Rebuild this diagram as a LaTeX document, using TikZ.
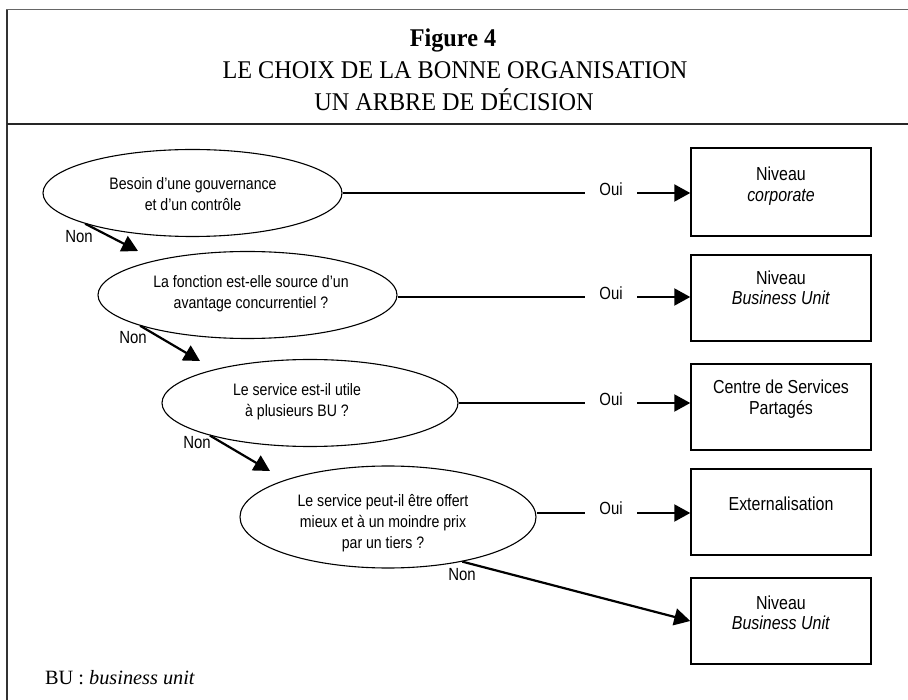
\documentclass[tikz,border=0pt]{standalone}
\usepackage{fontspec}
\setmainfont{Liberation Serif}
\newfontfamily\titlefont[FakeStretch=0.95]{Liberation Serif}
\newfontfamily\narrow[FakeStretch=0.85]{Liberation Sans}
\usetikzlibrary{shapes.geometric,arrows.meta}
\begin{document}
\begin{tikzpicture}[x=1pt,y=-1pt,
  ell/.style={draw, ellipse, line width=1.1pt, inner sep=0pt},
  box/.style={draw, rectangle, line width=1.5pt, minimum width=180pt, minimum height=86pt, inner sep=0pt},
  etxt/.style={font=\narrow\fontsize{16.6}{21}\selectfont, align=center, inner sep=0pt},
  btxt/.style={font=\narrow\fontsize{18.8}{20.5}\selectfont, align=center, inner sep=0pt},
  yes/.style={font=\narrow\fontsize{17.6}{20}\selectfont, inner sep=0pt},
  nolab/.style={font=\narrow\fontsize{17.6}{20}\selectfont, inner sep=0pt},
  conn/.style={line width=2.2pt},
  arr/.style={line width=2.2pt, -{Triangle[length=16pt,width=17pt]}},
  ttl/.style={font=\titlefont\fontsize{25.5}{30}\selectfont, anchor=base},
]
\useasboundingbox (0,0) rectangle (908,700);
% frame
\draw[line width=1.5pt, black!80] (7,700) -- (7,9.5);
\draw[line width=1.5pt, black!60] (6.25,9.5) -- (908,9.5);
\draw[line width=1.5pt, black!85] (7,124) -- (908,124);
% title
\node[ttl, font=\titlefont\bfseries\fontsize{25.5}{30}\selectfont] (t1) at (453,47) {Figure 4};
\node[ttl] (t2) at (455,79) {LE CHOIX DE LA BONNE ORGANISATION};
\node[ttl] (t3) at (454,111) {UN ARBRE DE DÉCISION};
% ellipses
\node[ell, minimum width=299pt, minimum height=87pt] (e1) at (192.5,193) {};
\node[etxt] (q1) at (193,194) {Besoin d’une gouvernance\\et d’un contrôle};
\node[ell, minimum width=299pt, minimum height=87pt] (e2) at (247.5,295) {};
\node[etxt] (q2) at (251,294) {La fonction est-elle source d’un\\avantage concurrentiel ?};
\node[ell, minimum width=296pt, minimum height=87pt] (e3) at (310,403) {};
\node[etxt] (q3) at (297,402) {Le service est-il utile\\à plusieurs BU ?};
\node[ell, minimum width=296pt, minimum height=102pt] (e4) at (388,517) {};
\node[etxt] (q4) at (383,523) {Le service peut-il être offert\\mieux et à un moindre prix\\par un tiers ?};
% boxes
\node[box, minimum height=88pt] (b1) at (781,192) {};
\node[btxt] (r1) at (781,186) {Niveau\\\textit{corporate}};
\node[box] (b2) at (781,298) {};
\node[btxt] (r2) at (781,288) {Niveau\\\textit{Business Unit}};
\node[box] (b3) at (781,407) {};
\node[btxt] (r3) at (781,399) {Centre de Services\\Partagés};
\node[box] (b4) at (781,512) {};
\node[btxt] (r4) at (781,504) {Externalisation};
\node[box] (b5) at (781,621) {};
\node[btxt] (r5) at (781,613) {Niveau\\\textit{Business Unit}};
% Oui connectors
\coordinate (o1a) at (585,193); \coordinate (o1b) at (637,193);
\coordinate (o2a) at (585,297); \coordinate (o2b) at (637,297);
\coordinate (o3a) at (585,403); \coordinate (o3b) at (637,403);
\coordinate (o4a) at (585,513); \coordinate (o4b) at (637,513);
\draw[conn] (e1.east |- o1a) -- (o1a);
\draw[conn] (e2.east |- o2a) -- (o2a);
\draw[conn] (e3.east |- o3a) -- (o3a);
\draw[conn] (e4.east |- o4a) -- (o4a);
\node[yes] (y1) at (611,189) {Oui};
\node[yes] (y2) at (611,293) {Oui};
\node[yes] (y3) at (611,399) {Oui};
\node[yes] (y4) at (611,508) {Oui};
\draw[arr] (o1b) -- (o1b -| b1.west);
\draw[arr] (o2b) -- (o2b -| b2.west);
\draw[arr] (o3b) -- (o3b -| b3.west);
\draw[arr] (o4b) -- (o4b -| b4.west);
% Non connectors
\coordinate (n1) at (138,251);
\coordinate (n2) at (200,361);
\coordinate (n3) at (270,471);
\draw[arr] (e1.196) -- (n1);
\draw[arr] (e2.196) -- (n2);
\draw[arr] (e3.198) -- (n3);
\draw[arr] (e4.329) -- (b5.west);
\node[nolab] (m1) at (79,237) {Non};
\node[nolab] (m2) at (133,338) {Non};
\node[nolab] (m3) at (197,443) {Non};
\node[nolab] (m4) at (462,575) {Non};
% footnote
\node[anchor=base west, inner sep=0pt, font=\fontsize{20.3}{24}\selectfont] (fn) at (45,684) {BU : \textit{business unit}};
\end{tikzpicture}
\end{document}
